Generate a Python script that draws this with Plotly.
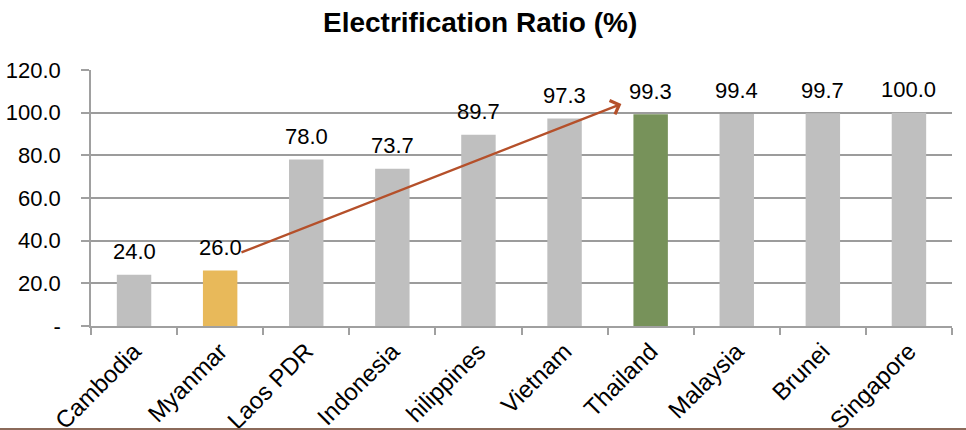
import plotly.graph_objects as go

countries = ["Cambodia", "Myanmar", "Laos PDR", "Indonesia", "hilippines",
             "Vietnam", "Thailand", "Malaysia", "Brunei", "Singapore"]
ratios = [24.0, 26.0, 78.0, 73.7, 89.7, 97.3, 99.3, 99.4, 99.7, 100.0]
bar_colors = ["#BFBFBF", "#E8B95A", "#BFBFBF", "#BFBFBF", "#BFBFBF",
              "#BFBFBF", "#77925A", "#BFBFBF", "#BFBFBF", "#BFBFBF"]
ytick_vals = [0, 20, 40, 60, 80, 100, 120]
ytick_text = ["-", "20.0", "40.0", "60.0", "80.0", "100.0", "120.0"]
arrow_start = (1.23, 34.2)
arrow_end = (5.66, 104.1)

FONT = "Liberation Sans, Arial, sans-serif"

fig = go.Figure()
fig.add_trace(go.Bar(
    x=countries, y=ratios, marker=dict(color=bar_colors, line=dict(width=0)),
    hoverinfo="skip", showlegend=False,
))

annotations = []
for c, v in zip(countries, ratios):
    annotations.append(dict(
        x=c, y=v, xref="x", yref="y", text=f"{v:.1f}", showarrow=False,
        yshift=23, font=dict(family=FONT, size=22, color="#000000"),
        xanchor="center", yanchor="middle",
    ))
annotations.append(dict(
    x=arrow_end[0], y=arrow_end[1], ax=arrow_start[0], ay=arrow_start[1],
    xref="x", yref="y", axref="x", ayref="y", text="", showarrow=True,
    arrowhead=4, arrowsize=1.2, arrowwidth=2.4, arrowcolor="#B5502A",
))

fig.update_layout(
    width=966, height=430,
    margin=dict(l=91, r=14, t=70, b=104, autoexpand=False),
    paper_bgcolor="white", plot_bgcolor="white",
    bargap=0.6,
    title=dict(text="<b>Electrification Ratio (%)</b>", x=0.497, xanchor="center",
               y=1 - 22 / 430, yanchor="middle",
               font=dict(family=FONT, size=28, color="#000000")),
    annotations=annotations,
    shapes=[dict(type="line", xref="paper", yref="paper",
                 x0=-91 / 861, x1=(966 - 91) / 861,
                 y0=-(429 - 326) / 256, y1=-(429 - 326) / 256,
                 line=dict(color="#8B6A5A", width=2))],
)
fig.update_xaxes(
    type="category", tickangle=-45, tickson="boundaries", automargin=False,
    ticks="outside", ticklen=7, tickcolor="#A0A0A0", tickwidth=1.5,
    showline=True, linecolor="#A0A0A0", linewidth=1.5,
    showgrid=False, tickfont=dict(family=FONT, size=24, color="#000000"),
)
fig.update_yaxes(
    range=[0, 120], tickvals=ytick_vals, ticktext=ytick_text, automargin=False,
    ticks="outside", ticklen=8, tickcolor="#A0A0A0", tickwidth=1.5,
    showline=True, linecolor="#A0A0A0", linewidth=1.5,
    showgrid=True, gridcolor="#9C9C9C", gridwidth=1.5, zeroline=False,
    ticklabelstandoff=16,
    tickfont=dict(family=FONT, size=22, color="#000000"),
)

fig.write_html("out.html")
